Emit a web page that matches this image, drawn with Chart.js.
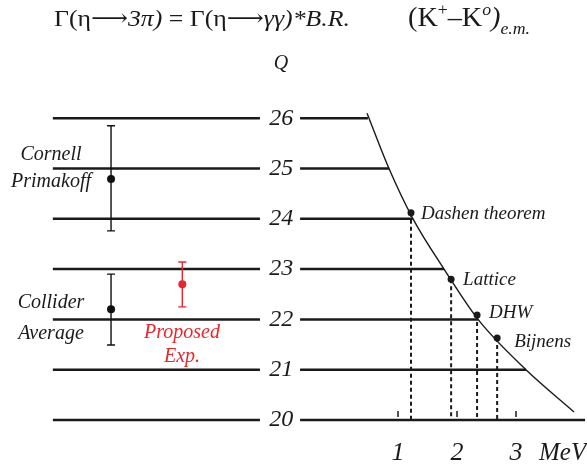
<!DOCTYPE html>
<html>
<head>
<meta charset="utf-8">
<script src="https://cdn.jsdelivr.net/npm/chart.js@4/dist/chart.umd.min.js"></script>
<style>
  html, body { margin: 0; padding: 0; background: #fff; }
  canvas { display: block; }
</style>
</head>
<body>
<canvas id="qChart" width="587" height="467"></canvas>
<script>
// Q levels drawn as horizontal lines
var qLevels = [20, 21, 22, 23, 24, 25, 26];
// where each right-hand line stops (MeV), same order as qLevels
var rightLineEnds = [4.17, 3.17, 2.36, 1.78, 1.25, 0.85, 0.49];

// Q vs (K+ - K0)e.m. curve
var curveX = [0.475, 0.847, 1.254, 1.780, 2.356, 3.169, 3.983];
var curveQ = [26.10, 25.0, 24.0, 23.0, 22.0, 21.0, 20.16];

// theory points on the curve
var theoryNames = ["Dashen theorem", "Lattice", "DHW", "Bijnens"];
var theoryX = [1.22, 1.90, 2.34, 2.68];
var theoryQ = [24.12, 22.80, 22.09, 21.63];

// measurements (x is only a placement slot on the left side)
var measNames = [["Cornell", "Primakoff"], ["Collider", "Average"], ["Proposed", "Exp."]];
var measX = [-3.864, -3.864, -2.656];
var measQ = [24.79, 22.20, 22.70];
var measLo = [23.76, 21.49, 22.25];
var measHi = [25.85, 22.90, 23.14];
var measColor = ["#111", "#111", "#e8262c"];

// MeV tick labels
var mevTicks = [1, 2, 3];

var black = "#1a1a1a";
var red = "#e8262c";
var serif = '"Liberation Serif", "DejaVu Serif", serif';

var datasets = [];

qLevels.forEach(function (q, i) {
    datasets.push({
        data: [{x: -4.85, y: q}, {x: -1.34, y: q}],
        showLine: true, borderColor: black, borderWidth: 2.5, pointRadius: 0
    });
    datasets.push({
        data: [{x: -0.66, y: q}, {x: rightLineEnds[i], y: q}],
        showLine: true, borderColor: black, borderWidth: 2.5, pointRadius: 0
    });
});

datasets.push({
    data: curveX.map(function (x, i) { return {x: x, y: curveQ[i]}; }),
    showLine: true, borderColor: black, borderWidth: 1.4, pointRadius: 0,
    cubicInterpolationMode: 'monotone'
});

theoryX.forEach(function (x, i) {
    datasets.push({
        data: [{x: x, y: theoryQ[i]}, {x: x, y: 20}],
        showLine: true, borderColor: black, borderWidth: 2, borderDash: [4, 3],
        pointRadius: 0
    });
});

datasets.push({
    data: theoryX.map(function (x, i) { return {x: x, y: theoryQ[i]}; }),
    showLine: false, pointRadius: 3.5, pointBackgroundColor: black, pointBorderWidth: 0
});

datasets.push({
    data: measX.map(function (x, i) { return {x: x, y: measQ[i]}; }),
    showLine: false, pointRadius: 4, pointBackgroundColor: measColor, pointBorderWidth: 0
});

// error bars, MeV ticks and all the text
var overlay = {
    id: 'overlay',
    afterDatasetsDraw: function (chart) {
        var ctx = chart.ctx;
        var xs = chart.scales.x, ys = chart.scales.y;
        ctx.save();

        // error bars
        measX.forEach(function (x, i) {
            var px = xs.getPixelForValue(x);
            var top = ys.getPixelForValue(measHi[i]);
            var bot = ys.getPixelForValue(measLo[i]);
            ctx.strokeStyle = measColor[i];
            ctx.lineWidth = 1.4;
            ctx.beginPath();
            ctx.moveTo(px, top); ctx.lineTo(px, bot);
            ctx.moveTo(px - 4, top); ctx.lineTo(px + 4, top);
            ctx.moveTo(px - 4, bot); ctx.lineTo(px + 4, bot);
            ctx.stroke();
        });

        // small ticks on the Q=20 line
        var base = ys.getPixelForValue(20);
        ctx.strokeStyle = black;
        ctx.lineWidth = 1.5;
        mevTicks.forEach(function (t) {
            var px = xs.getPixelForValue(t);
            ctx.beginPath();
            ctx.moveTo(px, base - 9); ctx.lineTo(px, base - 3);
            ctx.stroke();
        });

        ctx.fillStyle = black;
        ctx.textBaseline = 'middle';

        // Q labels in the middle
        ctx.font = 'italic 24px ' + serif;
        ctx.textAlign = 'center';
        qLevels.forEach(function (q) {
            ctx.fillText(String(q), xs.getPixelForValue(-0.98), ys.getPixelForValue(q));
        });

        // MeV labels
        ctx.font = 'italic 26px ' + serif;
        mevTicks.forEach(function (t) {
            ctx.fillText(String(t), xs.getPixelForValue(t), 453);
        });
        ctx.textAlign = 'left';
        ctx.font = 'italic 25px ' + serif;
        ctx.fillText('MeV', 539, 453);

        // theory labels
        ctx.font = 'italic 19px ' + serif;
        var offs = [[10, 1], [12, 1], [12, -2], [17, 4]];
        theoryNames.forEach(function (n, i) {
            ctx.fillText(n, xs.getPixelForValue(theoryX[i]) + offs[i][0],
                ys.getPixelForValue(theoryQ[i]) + offs[i][1]);
        });

        // measurement labels
        ctx.font = 'italic 20px ' + serif;
        ctx.textAlign = 'center';
        ctx.fillText(measNames[0][0], 51, 155);
        ctx.fillText(measNames[0][1], 51, 182);
        ctx.fillText(measNames[1][0], 51, 303);
        ctx.fillText(measNames[1][1], 51, 334);
        ctx.fillStyle = red;
        ctx.fillText(measNames[2][0], 182, 333);
        ctx.fillText(measNames[2][1], 182, 357);

        // header
        ctx.fillStyle = black;
        ctx.font = 'italic 20px ' + serif;
        ctx.fillText('Q', 281, 64);

        ctx.textAlign = 'left';
        ctx.textBaseline = 'alphabetic';
        // draws styled pieces in a row, stretched to the given width
        function run(parts, x, y, width) {
            var w = 0;
            parts.forEach(function (p) {
                ctx.font = p[1] + ' ' + serif;
                w += ctx.measureText(p[0]).width;
            });
            ctx.save();
            ctx.translate(x, y);
            ctx.scale(width / w, 1);
            var cx = 0;
            parts.forEach(function (p) {
                ctx.font = p[1] + ' ' + serif;
                ctx.fillText(p[0], cx, p[2] || 0);
                cx += ctx.measureText(p[0]).width;
            });
            ctx.restore();
        }
        run([["Γ(η", "24px"], ["⟶", "24px"], ["3π)", "italic 24px"], [" = Γ(η", "24px"],
             ["⟶", "24px"], ["γγ)*B.R.", "italic 24px"]], 54, 26, 296);
        run([["(K", "27px"], ["+", "17px", -11], ["–K", "27px"], ["o", "italic 17px", -11],
             [")", "italic 27px"], ["e.m.", "italic 17px", 8]], 408, 26, 122);

        ctx.restore();
    }
};

var ctx = document.getElementById("qChart").getContext("2d");
new Chart(ctx, {
    type: 'scatter',
    data: {datasets: datasets},
    options: {
        responsive: false,
        animation: false,
        devicePixelRatio: 1,
        layout: {padding: 0, autoPadding: false},
        plugins: {legend: {display: false}, tooltip: {enabled: false}},
        elements: {line: {tension: 0}},
        scales: {
            x: {type: 'linear', min: -5.746, max: 4.203, display: false},
            y: {type: 'linear', min: 19.066, max: 28.35, display: false}
        }
    },
    plugins: [overlay]
});
</script>
</body>
</html>
